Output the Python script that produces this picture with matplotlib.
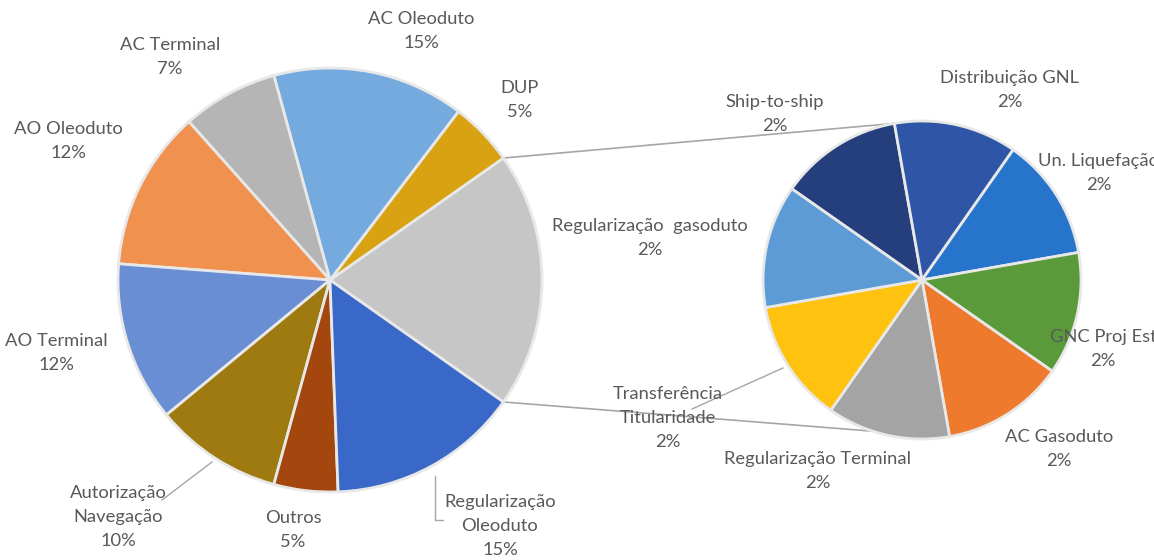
import numpy as np
import matplotlib.pyplot as plt

# dados (número de processos)
main_labels = ['DUP', 'AC Oleoduto', 'AC Terminal', 'AO Oleoduto', 'AO Terminal',
               'Autorização\nNavegação', 'Outros', 'Regularização\nOleoduto']
main_values = [2, 6, 3, 5, 5, 4, 2, 6]
main_colors = ['#D8A212', '#74AADD', '#B5B5B5', '#F0914F', '#6A8ED4',
               '#9E7A10', '#A3470F', '#3A68C8']

sub_labels = ['Ship-to-ship', 'Distribuição GNL', 'Un. Liquefação', 'GNC Proj Est',
              'AC Gasoduto', 'Regularização Terminal', 'Transferência\nTitularidade',
              'Regularização  gasoduto']
sub_values = [1, 1, 1, 1, 1, 1, 1, 1]
sub_colors = ['#243F7B', '#2F55A6', '#2674CB', '#5B9A3B', '#EE7B2D',
              '#A4A4A4', '#FFC20F', '#5C9BD6']
other_color = '#C6C6C6'

W, H = 1154, 560
fig = plt.figure(figsize=(W / 100, H / 100), dpi=100)
ax = fig.add_axes([0, 0, 1, 1])

total = sum(main_values) + sum(sub_values)
other = sum(sub_values)

# pizza principal: fatia "outros" centrada a 0 graus
c1, r1 = (330, H - 280), 212
vals1 = [other] + main_values
start1 = -other / total * 180
wedges1, _ = ax.pie(vals1, colors=[other_color] + main_colors, startangle=start1,
                    counterclock=True, center=c1, radius=r1, frame=True,
                    wedgeprops=dict(edgecolor='#E8E8E8', linewidth=2))

# pizza secundária
c2, r2 = (922, H - 280), 159
wedges2, _ = ax.pie(sub_values, colors=sub_colors, startangle=145,
                    counterclock=False, center=c2, radius=r2, frame=True,
                    wedgeprops=dict(edgecolor='#E8E8E8', linewidth=2))
ax.set_xlim(0, W)
ax.set_ylim(0, H)
ax.set_aspect('equal')
ax.axis('off')

# linhas de ligação
g = wedges1[0]
def pt(c, r, ang):
    a = np.radians(ang)
    return c[0] + r * np.cos(a), c[1] + r * np.sin(a)
for a1, a2 in [(g.theta2, 100), (g.theta1, 252)]:
    p1 = pt(c1, r1, a1)
    p2 = pt(c2, r2, a2)
    ax.plot([p1[0], p2[0]], [p1[1], p2[1]], color='#A6A6A6', lw=1.2, zorder=0)

txt = dict(color='#595959', fontsize=13.2, family='Lato', ha='center', va='center',
           linespacing=1.62)

def pct(v):
    return f'{round(100 * v / total)}%'

main_pos = [(520, 100), (421, 31), (170, 57), (68, 141), (56, 353),
            (118, 517), (293, 530), (500, 526)]
for lab, v, (x, y) in zip(main_labels, main_values, main_pos):
    ax.text(x, H - y, f'{lab}\n{pct(v)}', **txt)

sub_pos = [(775, 114), (1010, 90), (1099, 173), (1103, 349),
           (1059, 449), (818, 471), (668, 418), (650, 238)]
for lab, v, (x, y) in zip(sub_labels, sub_values, sub_pos):
    ax.text(x, H - y, f'{lab}\n{pct(v)}', **txt)

# linhas guia dos rótulos
lc = dict(color='#A6A6A6', lw=1)
ax.plot([162, 212], [H - 500, H - 462], **lc)
ax.plot([435, 435, 443], [H - 476, H - 520, H - 520], **lc)
ax.plot([692, 783], [H - 409, H - 368], **lc)

fig.savefig('out.png', dpi=100)
